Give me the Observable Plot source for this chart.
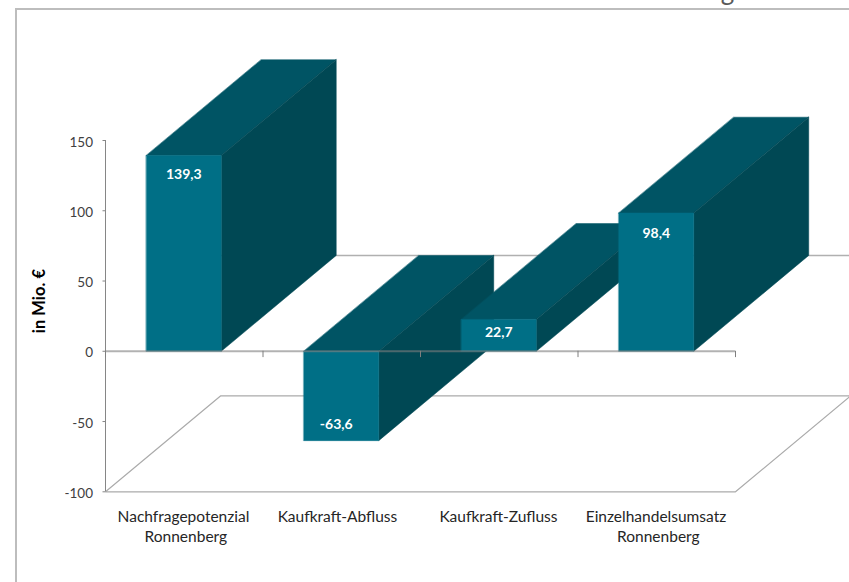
<!DOCTYPE html>
<html lang="de">
<head>
<meta charset="utf-8">
<script src="https://cdn.jsdelivr.net/npm/d3@7"></script>
<script src="https://cdn.jsdelivr.net/npm/@observablehq/plot@0.6"></script>
<style>
  html, body { margin: 0; background: #fff; }
  #frame { position: absolute; left: 15px; top: 8px; right: 0; bottom: 0; border-left: 2px solid #bdbdbd; border-top: 2px solid #bdbdbd; }
  #chart { position: absolute; left: 0; top: 0; }
  #chart svg { background: transparent; display: block; }
</style>
</head>
<body>
<div id="frame"></div>
<div id="chart"></div>
<script>
const categories = ["Nachfragepotenzial", "Kaufkraft-Abfluss", "Kaufkraft-Zufluss", "Einzelhandelsumsatz"];
const categoriesLine2 = ["Ronnenberg", "", "", "Ronnenberg"];
const values = [139.3, -63.6, 22.7, 98.4];
const yTicks = [-100, -50, 0, 50, 100, 150];
const labelShiftY = [19, -16, 13, 21];
const labelShiftX = [0, -5, 0, 0];
const categoryShiftX = [0, -3.5, 0, 0];

// Oblique projection of the column depth, in scale units.
const depthX = 0.73;
const depthY = 68.2;
const barWidth = 0.476;
const barCentre = 0.497;
const textFont = "Lato, sans-serif";

const faceMark = (points, color) =>
  Plot.line(points, {x: "x", y: "y", fill: color, stroke: color, strokeWidth: 0.5, curve: "linear-closed"});

const columnFaces = values.flatMap((v, i) => {
  const x0 = i + barCentre - barWidth / 2, x1 = i + barCentre + barWidth / 2;
  const top = Math.max(v, 0), bottom = Math.min(v, 0);
  const shift = (p) => ({x: p.x + depthX, y: p.y + depthY});
  const a = {x: x0, y: top}, b = {x: x1, y: top}, c = {x: x1, y: bottom}, d = {x: x0, y: bottom};
  return [
    faceMark([a, b, shift(b), shift(a)], "#005464"),
    faceMark([b, c, shift(c), shift(b)], "#004854"),
    faceMark([a, b, c, d], "#006f86")
  ];
});

const floor = [
  {x: 0, y: -100}, {x: 4, y: -100},
  {x: 4 + depthX, y: -100 + depthY}, {x: depthX, y: -100 + depthY}
];

const valueLabels = values.map((v, i) =>
  Plot.text([v], {
    x: () => i + barCentre, y: (d) => d,
    text: (d) => String(d).replace(".", ","),
    dx: labelShiftX[i], dy: labelShiftY[i],
    fill: "#fff", fontFamily: textFont, fontWeight: 700, fontSize: 14
  })
);

const categoryLabels = categories.map((name, i) =>
  Plot.text([name], {
    x: () => i + 0.495, y: () => -100, text: (d) => d,
    dx: categoryShiftX[i], lineAnchor: "top", dy: 19,
    fontFamily: textFont, fontSize: 15.5, fill: "#262626"
  })
);

const secondLines = categoriesLine2.map((name, i) =>
  Plot.text([name], {
    x: () => i + 0.51, y: () => -100, text: (d) => d,
    lineAnchor: "top", dy: 39.5,
    fontFamily: textFont, fontSize: 15.5, fill: "#262626"
  })
);

const chart = Plot.plot({
  width: 849,
  height: 582,
  marginLeft: 105,
  marginRight: 114,
  marginTop: 140,
  marginBottom: 90.7,
  x: {domain: [0, 4], axis: null},
  y: {domain: [-100, 150], axis: null},
  style: {background: "transparent", overflow: "hidden"},
  marks: [
    // Chart title, running off the upper edge of the page
    Plot.text(["g"], {x: () => 3.95, y: () => 250, text: (d) => d, lineAnchor: "bottom",
      fill: "#595959", fontSize: 26, fontFamily: textFont}),
    // Back edge of the zero plane and the floor
    Plot.line([{x: depthX, y: depthY}, {x: 4 + depthX, y: depthY}],
      {x: "x", y: "y", stroke: "#b0b0b0", strokeWidth: 1.5}),
    Plot.line(floor, {x: "x", y: "y", stroke: "#ababab", strokeWidth: 1.2, curve: "linear-closed"}),
    Plot.ruleX([0], {y1: -100, y2: 150, stroke: "#868686", strokeWidth: 1}),
    ...columnFaces,
    // Zero line with its category ticks
    Plot.ruleY([0], {x1: 0, x2: 4, stroke: "#7f7f7f", strokeOpacity: 0.6, strokeWidth: 2}),
    Plot.ruleX([0, 1, 2, 3, 4], {y1: 0, y2: -4.5, stroke: "#7f7f7f", strokeWidth: 1}),
    // Tick marks and tick labels sit slightly apart vertically
    Plot.axisY({ticks: yTicks, text: null, label: null, tickSize: 2.5, stroke: "#868686"}),
    Plot.axisY({
      ticks: yTicks, tickFormat: (d) => String(d), label: null,
      tickSize: 0, tickPadding: 12.5, dy: 1.7,
      fontSize: 13.5, fontFamily: textFont, fill: "#404040"
    }),
    ...categoryLabels,
    ...secondLines,
    Plot.text(["in Mio. €"], {
      x: () => -0.419, y: () => 35.7, text: (d) => d, rotate: -90,
      fontFamily: textFont, fontWeight: 700, fontSize: 16.5, fill: "#000"
    }),
    ...valueLabels
  ]
});
document.getElementById("chart").append(chart);
</script>
</body>
</html>
